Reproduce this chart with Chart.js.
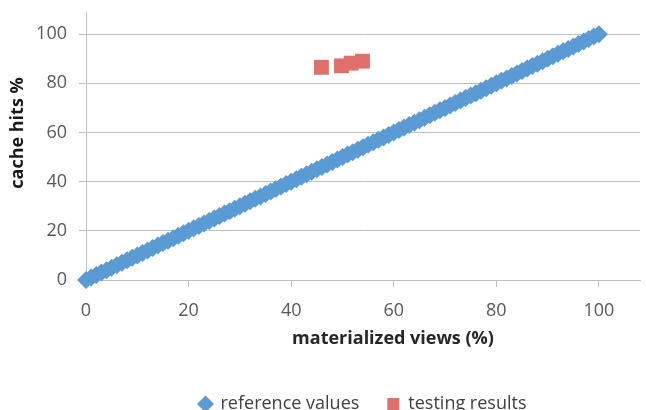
<!DOCTYPE html>
<html lang="en">
<head>
    <meta charset="UTF-8">
    <title>cache hits vs materialized views</title>
    <script src="https://cdn.jsdelivr.net/npm/chart.js"></script>
    <style>
        html, body { margin: 0; padding: 0; background: #fff; overflow: hidden; }
        /* a bit taller than the window: the legend is cut at the bottom like the original */
        .chart_box { position: relative; width: 646px; height: 423px; }
    </style>
</head>
<body>
    <div class="chart_box">
        <canvas id="cacheChart"></canvas>
    </div>
    <script>
        // reference values (y = x line)
        const refViews = [0,1,2,3,4,5,6,7,8,9,10,11,12,13,14,15,16,17,18,19,20,21,22,23,24,25,26,27,28,29,30,31,32,33,34,35,36,37,38,39,40,41,42,43,44,45,46,47,48,49,50,51,52,53,54,55,56,57,58,59,60,61,62,63,64,65,66,67,68,69,70,71,72,73,74,75,76,77,78,79,80,81,82,83,84,85,86,87,88,89,90,91,92,93,94,95,96,97,98,99,100];
        const refHits  = [0,1,2,3,4,5,6,7,8,9,10,11,12,13,14,15,16,17,18,19,20,21,22,23,24,25,26,27,28,29,30,31,32,33,34,35,36,37,38,39,40,41,42,43,44,45,46,47,48,49,50,51,52,53,54,55,56,57,58,59,60,61,62,63,64,65,66,67,68,69,70,71,72,73,74,75,76,77,78,79,80,81,82,83,84,85,86,87,88,89,90,91,92,93,94,95,96,97,98,99,100];

        // testing results
        const testViews = [45.9, 49.8, 51.7, 53.9];
        const testHits  = [86.5, 87.1, 88.2, 89.0];

        const xTicks = [0, 20, 40, 60, 80, 100];
        const yTicks = [0, 20, 40, 60, 80, 100];

        const xTitulo = 'materialized views (%)';
        const yTitulo = 'cache hits %';

        function pares(xs, ys) {
            return xs.map((x, i) => ({ x: x, y: ys[i] }));
        }

        const fonte = "'Open Sans', 'Liberation Sans', sans-serif";

        // titulos dos eixos (no original nao ficam centrados no grafico)
        const titulosEixos = {
            id: 'titulosEixos',
            afterDraw(chart) {
                const { ctx, chartArea } = chart;
                ctx.save();
                ctx.font = 'bold 18px ' + fonte;
                ctx.textAlign = 'center';
                ctx.textBaseline = 'middle';
                ctx.fillStyle = '#262626';
                ctx.fillText(xTitulo, (chartArea.left + chartArea.right) / 2 + 30, chartArea.bottom + 59);
                ctx.translate(18, (chartArea.top + chartArea.bottom) / 2 - 13);
                ctx.rotate(-Math.PI / 2);
                ctx.fillStyle = '#1a1a1a';
                ctx.fillText(yTitulo, 0, 0);
                ctx.restore();
            }
        };

        const ctx = document.getElementById('cacheChart').getContext('2d');
        new Chart(ctx, {
            type: 'scatter',
            data: {
                datasets: [{
                    label: 'reference values',
                    data: pares(refViews, refHits),
                    pointStyle: 'rectRot',
                    pointRadius: 9,
                    pointHoverRadius: 9,
                    backgroundColor: '#5b9bd5',
                    borderColor: '#5b9bd5',
                    borderWidth: 0,
                    clip: false
                }, {
                    label: 'testing results',
                    data: pares(testViews, testHits),
                    pointStyle: 'rect',
                    pointRadius: 10.5,
                    pointHoverRadius: 10.5,
                    backgroundColor: '#e0706b',
                    borderColor: '#e0706b',
                    borderWidth: 0,
                    clip: false
                }]
            },
            plugins: [titulosEixos],
            options: {
                responsive: true,
                maintainAspectRatio: false,
                animation: false,
                layout: { autoPadding: false, padding: { left: 0, right: 6, top: 12, bottom: 0 } },
                plugins: {
                    tooltip: { enabled: false },
                    legend: {
                        position: 'bottom',
                        fullSize: false,
                        labels: {
                            usePointStyle: true,
                            boxWidth: 12,
                            boxHeight: 12,
                            padding: 28,
                            color: '#404040',
                            font: { family: fonte, size: 18 }
                        }
                    }
                },
                scales: {
                    x: {
                        type: 'linear',
                        min: 0,
                        max: 108,
                        afterBuildTicks: axis => { axis.ticks = xTicks.map(v => ({ value: v })); },
                        afterFit: axis => { axis.height = 87; },
                        grid: { drawOnChartArea: false, drawTicks: true, tickLength: 7, color: '#bfbfbf' },
                        border: { display: true, color: '#bfbfbf', width: 1 },
                        ticks: { color: '#595959', padding: 13, font: { family: fonte, size: 18 } }
                    },
                    y: {
                        type: 'linear',
                        min: 0,
                        max: 109,
                        afterBuildTicks: axis => { axis.ticks = yTicks.map(v => ({ value: v })); },
                        afterFit: axis => {
                            axis.width = 86;
                            axis.paddingTop = 0;
                            axis.paddingBottom = 0;
                        },
                        grid: { color: '#bfbfbf', drawTicks: true, tickLength: 7 },
                        border: { display: true, color: '#bfbfbf', width: 1 },
                        ticks: { color: '#595959', padding: 12, font: { family: fonte, size: 18 } }
                    }
                }
            }
        });
    </script>
</body>
</html>
